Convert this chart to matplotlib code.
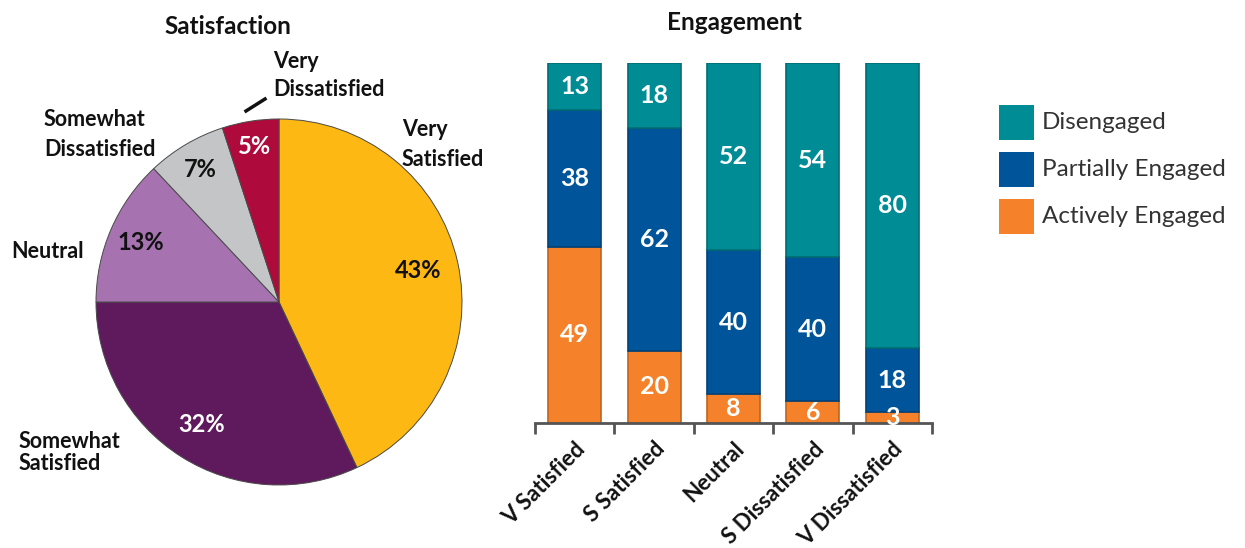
import matplotlib
matplotlib.use('Agg')
import matplotlib.pyplot as plt
from matplotlib.patches import Rectangle
from matplotlib.lines import Line2D
import matplotlib.colors as mcolors
import matplotlib.transforms as mtransforms
import numpy as np

# ---------------- data ----------------
pie_labels = ['Very\nSatisfied', 'Somewhat\nSatisfied', 'Neutral',
              'Somewhat\nDissatisfied', 'Very\nDissatisfied']
pie_values = [43, 32, 13, 7, 5]
pie_colors = ['#FDB813', '#5E1A5C', '#A672B0', '#C4C5C7', '#AE0A3B']
pct_colors = ['#111111', 'white', '#111111', '#111111', 'white']

categories = ['V Satisfied', 'S Satisfied', 'Neutral', 'S Dissatisfied', 'V Dissatisfied']
actively = [49, 20, 8, 6, 3]
partially = [38, 62, 40, 40, 18]
disengaged = [13, 18, 52, 54, 80]
series_names = ['Actively Engaged', 'Partially Engaged', 'Disengaged']
series_colors = ['#F5822A', '#00549A', '#008C95']

# ---------------- layout helpers ----------------
W, H = 1245, 548
plt.rcParams['font.family'] = ['Lato', 'DejaVu Sans']
fig = plt.figure(figsize=(W / 100, H / 100), dpi=100)


def fx(px):
    return px / W


def fy(py):
    return 1 - py / H


def darker(c, f=0.78):
    rgb = np.array(mcolors.to_rgb(c)) * f
    return tuple(rgb)


TXT = '#111111'

# ---------------- pie ----------------
cx, cy, r = 279, 302, 183
axp = fig.add_axes([fx(cx - r), fy(cy + r), 2 * r / W, 2 * r / H])
wedges, _ = axp.pie(pie_values, colors=pie_colors, startangle=90, counterclock=False,
                    radius=1, wedgeprops=dict(edgecolor='#4a4a4a', linewidth=0.7))
axp.set_xlim(-1, 1)
axp.set_ylim(-1, 1)
axp.set_aspect('equal')

pct_dist = [0.78, 0.79, 0.82, 0.84, 0.86]
for w, v, d, c in zip(wedges, pie_values, pct_dist, pct_colors):
    th = np.deg2rad((w.theta1 + w.theta2) / 2)
    axp.text(d * np.cos(th), d * np.sin(th), f'{v}%', ha='center', va='center',
             fontsize=17, fontweight='bold', color=c)

# outer labels (pixel layout: left x, line center ys)
label_pos = [(402, [129, 160]), (19, [441, 463]), (11, [252]),
             (44, [120, 150]), (273, [62, 89])]
for lab, (lx, ys) in zip(pie_labels, label_pos):
    for line, ly in zip(lab.split('\n'), ys):
        fig.text(fx(lx), fy(ly), line, ha='left', va='center', fontsize=15.5,
                 fontweight='bold', color=TXT)

# leader line for Very Dissatisfied
fig.add_artist(Line2D([fx(246), fx(265)], [fy(111), fy(99)], transform=fig.transFigure,
                      color=TXT, linewidth=2.5))

fig.text(fx(228), fy(26), 'Satisfaction', ha='center', va='center', fontsize=17.5,
         fontweight='bold', color=TXT)

# ---------------- stacked bars (100% stacked) ----------------
totals = np.array(actively) + np.array(partially) + np.array(disengaged)
x0, x1 = 535, 932
ybot, ytop = 423, 63
axb = fig.add_axes([fx(x0), fy(ybot), (x1 - x0) / W, (ybot - ytop) / H])
xs = np.arange(len(categories))
bottom = np.zeros(len(categories))
for vals, col in zip([actively, partially, disengaged], series_colors):
    share = np.array(vals) / totals * 100
    axb.bar(xs, share, 0.667, bottom=bottom, color=col, edgecolor=darker(col),
            linewidth=1.2)
    for xi, v, s, b in zip(xs, vals, share, bottom):
        axb.text(xi, b + s / 2, str(v), ha='center', va='center', color='white',
                 fontsize=18, fontweight='bold')
    bottom = bottom + share

axb.set_xlim(-0.5, len(categories) - 0.5)
axb.set_ylim(0, 100)
for s in ['left', 'right', 'top']:
    axb.spines[s].set_visible(False)
axb.spines['bottom'].set_color('#555555')
axb.spines['bottom'].set_linewidth(2)
axb.set_yticks([])
axb.set_xticks(xs)
axb.set_xticks(np.arange(-0.5, len(categories)), minor=True)
axb.tick_params(axis='x', which='major', length=0, pad=11)
axb.tick_params(axis='x', which='minor', length=8, width=2, color='#555555')
axb.set_xticklabels(categories, rotation=45, ha='right', rotation_mode='anchor',
                    fontsize=16, fontweight='bold', color=TXT)
offset = mtransforms.ScaledTranslation(0 / 100, 0, fig.dpi_scale_trans)
for lab in axb.get_xticklabels():
    lab.set_transform(lab.get_transform() + offset)

fig.text(fx(734), fy(23), 'Engagement', ha='center', va='center', fontsize=17.5,
         fontweight='bold', color=TXT)

# ---------------- legend (manual) ----------------
leg_x, leg_y0, leg_size, leg_step = 999, 105, 35, 47
for i, (name, col) in enumerate(zip(series_names[::-1], series_colors[::-1])):
    top = leg_y0 + i * leg_step
    fig.add_artist(Rectangle((fx(leg_x), fy(top + leg_size)), leg_size / W, leg_size / H,
                             transform=fig.transFigure, facecolor=col, edgecolor='none'))
    fig.text(fx(1042), fy(top + leg_size / 2), name, ha='left', va='center',
             fontsize=17.5, color='#333333')

fig.savefig('out.png', dpi=100)
